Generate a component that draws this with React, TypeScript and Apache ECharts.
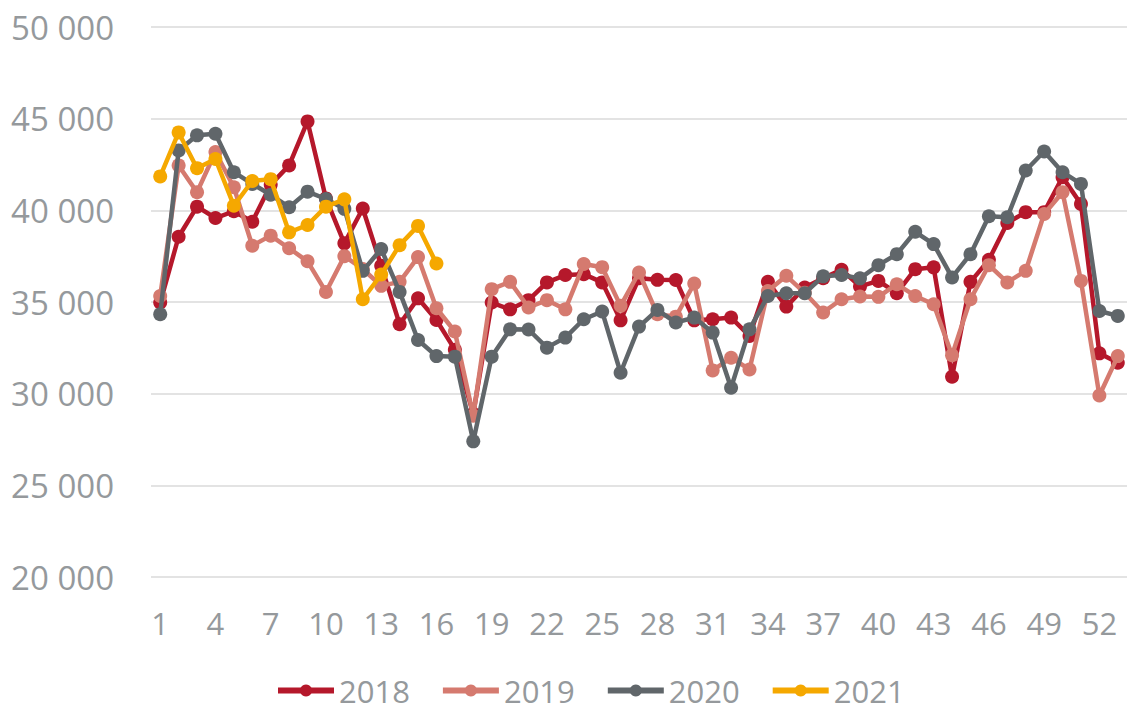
import React, { useEffect, useRef } from "react";
import * as echarts from "echarts";

const weeks: string[] = Array.from({ length: 53 }, (_, i) => String(i + 1));

const y2018 = [
  34970, 38560, 40200, 39580, 39950, 39380, 41400, 42450, 44850, 40650,
  38200, 40100, 36980, 33790, 35200, 34020, 32400, 28900, 34970, 34600,
  35100, 36070, 36470, 36520, 36070, 34000, 36300, 36210, 36200, 34000,
  34060, 34150, 33150, 36100, 34750, 35790, 36300, 36760, 35850, 36150,
  35480, 36790, 36890, 30920, 36100, 37300, 39310, 39900, 39900, 41810,
  40350, 32200, 31690,
];
const y2019 = [
  35330, 42450, 40990, 43180, 41260, 38070, 38620, 37930, 37220, 35550,
  37500, 36800, 35880, 36100, 37450, 34660, 33390, 28800, 35700, 36100,
  34700, 35100, 34600, 37070, 36900, 34790, 36610, 34330, 34200, 36010,
  31270, 31960, 31320, 35600, 36430, 35500, 34430, 35150, 35300, 35280,
  35970, 35330, 34880, 32100, 35150, 37010, 36070, 36700, 39800, 40990,
  36150, 29900, 32050,
];
const y2020 = [
  34330, 43270, 44090, 44180, 42080, 41440, 40850, 40170, 41020, 40620,
  40080, 36700, 37890, 35550, 32930, 32050, 32020, 27400, 32020, 33510,
  33500, 32510, 33060, 34060, 34480, 31140, 33660, 34570, 33880, 34150,
  33330, 30320, 33510, 35330, 35480, 35480, 36400, 36470, 36290, 37010,
  37610, 38830, 38160, 36340, 37610, 39680, 39620, 42170, 43210, 42080,
  41440, 34510, 34240,
];
const y2021 = [
  41850, 44250, 42300, 42800, 40250, 41600, 41700, 38800, 39200, 40200,
  40600, 35150, 36500, 38100, 39150, 37100,
];

const seriesNames = ["2018", "2019", "2020", "2021"];
const seriesData = [y2018, y2019, y2020, y2021];
const colors = ["#B5182B", "#D57A6F", "#60666A", "#F5A800"];

const font = "'Open Sans', sans-serif";
const labelColor = "#95999C";

export default function App() {
  const ref = useRef<HTMLDivElement>(null);
  useEffect(() => {
    if (!ref.current) return;
    const chart = echarts.init(ref.current, undefined, { renderer: "svg" });
    chart.setOption({
      animation: false,
      backgroundColor: "#ffffff",
      grid: { left: 151, right: -6, top: 27, bottom: 129, containLabel: false },
      legend: {
        data: seriesNames,
        left: 275,
        top: 675,
        padding: 0,
        itemWidth: 56,
        itemHeight: 15,
        itemGap: 30,
        lineStyle: { width: 6 },
        textStyle: { color: labelColor, fontSize: 31, lineHeight: 28, fontFamily: font },
      },
      xAxis: {
        type: "category",
        data: weeks,
        boundaryGap: true,
        axisLine: { show: false },
        axisTick: { show: false },
        axisLabel: {
          interval: 2,
          color: labelColor,
          fontSize: 31,
          fontFamily: font,
          margin: 30,
        },
      },
      yAxis: {
        type: "value",
        min: 20000,
        max: 50000,
        interval: 5000,
        axisLine: { show: false },
        axisTick: { show: false },
        splitLine: { lineStyle: { color: "#E3E3E3", width: 2 } },
        axisLabel: {
          color: labelColor,
          fontSize: 33,
          fontFamily: font,
          margin: 37,
          formatter: (v: number) => {
            const s = String(Math.round(v));
            return s.length > 3 ? s.slice(0, s.length - 3) + " " + s.slice(-3) : s;
          },
        },
      },
      series: seriesNames.map((name, i) => ({
        name,
        type: "line",
        data: seriesData[i],
        symbol: "circle",
        symbolSize: 14,
        showSymbol: true,
        showAllSymbol: true,
        color: colors[i],
        lineStyle: { width: 4.5, color: colors[i] },
        itemStyle: { color: colors[i] },
        z: 2 + i,
      })),
    });
    return () => chart.dispose();
  }, []);
  return (
    <div
      ref={ref}
      style={{ position: "fixed", left: 0, top: 0, width: 1127, height: 706 }}
    />
  );
}
